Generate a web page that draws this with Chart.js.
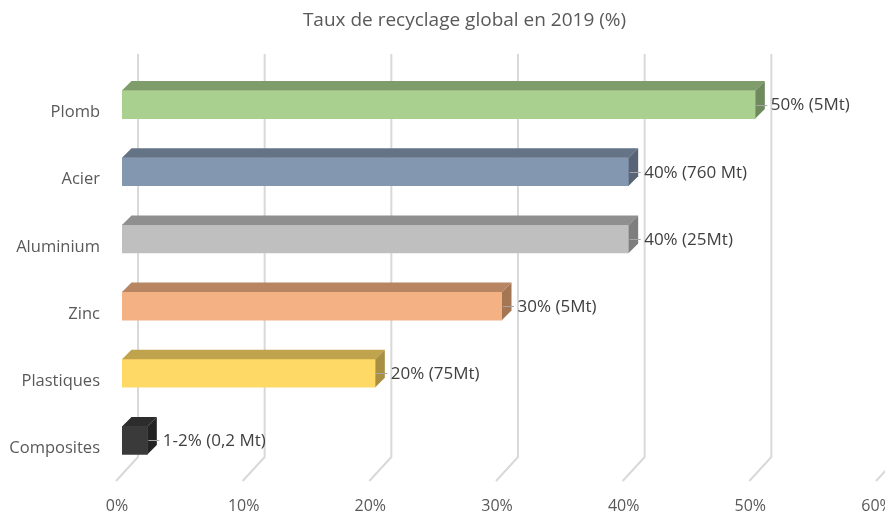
<!DOCTYPE html>
<html>
<head>
<meta charset="utf-8">
<script src="https://cdn.jsdelivr.net/npm/chart.js@4/dist/chart.umd.min.js"></script>
<style>
  html, body { margin: 0; padding: 0; background: #ffffff; overflow: hidden; }
  canvas { display: block; }
</style>
</head>
<body>
<canvas id="chart" width="885" height="514"></canvas>
<script>
// Recycling rates by material, 2019
const materials = ['Plomb', 'Acier', 'Aluminium', 'Zinc', 'Plastiques', 'Composites'];
const rates = [50, 40, 40, 30, 20, 2];
const rateLabels = ['50% (5Mt)', '40% (760 Mt)', '40% (25Mt)', '30% (5Mt)', '20% (75Mt)', '1-2% (0,2 Mt)'];
const axisTicks = [0, 10, 20, 30, 40, 50, 60];
const chartTitle = 'Taux de recyclage global en 2019 (%)';

// Face colours for the extruded bars
const frontColors = ['#A9D08E', '#8497B0', '#BFBFBF', '#F4B183', '#FFD966', '#3A3A3A'];
const topColors   = ['#7F9D6B', '#647386', '#8F8F8F', '#B88562', '#BFA34D', '#2C2C2C'];
const sideColors  = ['#6F8A5D', '#566476', '#7E7E7E', '#A57654', '#A98F42', '#232323'];

const FONT = '"Open Sans", "Noto Sans", sans-serif';
const TEXT = '#595959';
const DEPTH = 9.5;       // bar extrusion
const WALL_DX = 16;      // back wall shift from the bar front plane
const WALL_UP = 17;      // back wall rise above plot area
const FLOOR_DX = 22;     // floor lines run down-left toward the viewer
const FLOOR_DY = 24;

const bar3d = {
  id: 'bar3d',
  beforeDatasetsDraw(chart) {
    const { ctx, chartArea: a, scales: { x } } = chart;
    ctx.save();
    ctx.strokeStyle = '#D9D9D9';
    ctx.lineWidth = 2;
    axisTicks.forEach(v => {
      const xb = x.getPixelForValue(v) + WALL_DX;
      const yTop = a.top - WALL_UP;
      const yBend = a.bottom - WALL_UP;
      ctx.beginPath();
      ctx.moveTo(xb, yTop);
      ctx.lineTo(xb, yBend);
      ctx.lineTo(xb - FLOOR_DX, yBend + FLOOR_DY);
      ctx.stroke();
    });
    ctx.restore();
  },
  afterDatasetsDraw(chart) {
    const { ctx, chartArea: a, scales: { x } } = chart;
    const meta = chart.getDatasetMeta(0);
    ctx.save();
    meta.data.forEach((el, i) => {
      const p = el.getProps(['x', 'y', 'base', 'height'], true);
      const left = Math.min(p.base, p.x), right = Math.max(p.base, p.x);
      const top = p.y - p.height / 2, bottom = p.y + p.height / 2;
      const d = DEPTH;
      // top face
      ctx.fillStyle = topColors[i];
      ctx.beginPath();
      ctx.moveTo(left, top);
      ctx.lineTo(left + d, top - d);
      ctx.lineTo(right + d, top - d);
      ctx.lineTo(right, top);
      ctx.closePath();
      ctx.fill();
      // end face
      ctx.fillStyle = sideColors[i];
      ctx.beginPath();
      ctx.moveTo(right, top);
      ctx.lineTo(right + d, top - d);
      ctx.lineTo(right + d, bottom - d);
      ctx.lineTo(right, bottom);
      ctx.closePath();
      ctx.fill();
      // leader line and value label
      ctx.strokeStyle = '#A6A6A6';
      ctx.lineWidth = 1;
      ctx.beginPath();
      ctx.moveTo(right + 1, Math.round(p.y) + 0.5);
      ctx.lineTo(right + 12, Math.round(p.y) + 0.5);
      ctx.stroke();
      ctx.fillStyle = '#404040';
      ctx.font = '17px ' + FONT;
      ctx.textAlign = 'left';
      ctx.textBaseline = 'middle';
      ctx.fillText(rateLabels[i], right + 15.5, p.y + 1);
    });
    // value axis labels at the front edge of the floor
    ctx.fillStyle = TEXT;
    ctx.font = '16px ' + FONT;
    ctx.textAlign = 'center';
    ctx.textBaseline = 'middle';
    axisTicks.forEach(v => {
      const xf = x.getPixelForValue(v) + WALL_DX - FLOOR_DX;
      ctx.fillText(v + '%', xf + 1, a.bottom + 32);
    });
    // chart title
    ctx.font = '19px ' + FONT;
    ctx.fillText(chartTitle, chart.width / 2 + 22, 21);
    ctx.restore();
  }
};

new Chart(document.getElementById('chart'), {
  type: 'bar',
  data: {
    labels: materials,
    datasets: [{
      data: rates,
      backgroundColor: frontColors,
      borderWidth: 0,
      barThickness: 28
    }]
  },
  options: {
    indexAxis: 'y',
    responsive: false,
    animation: false,
    devicePixelRatio: 1,
    layout: { padding: { left: 0, right: 3, top: 71, bottom: 0 } },
    plugins: {
      legend: { display: false },
      tooltip: { enabled: false },
      title: { display: false }
    },
    scales: {
      x: {
        min: 0,
        max: 60,
        grid: { display: false, drawTicks: false },
        border: { display: false },
        ticks: { display: false, stepSize: 10 },
        afterFit(scale) { scale.height = 40; }
      },
      y: {
        grid: { display: false, drawTicks: false },
        border: { display: false },
        ticks: {
          color: TEXT,
          font: { family: FONT, size: 16.5 },
          padding: 22,
          labelOffset: 8
        },
        afterFit(scale) { scale.width = 122; }
      }
    }
  },
  plugins: [bar3d]
});
</script>
</body>
</html>
